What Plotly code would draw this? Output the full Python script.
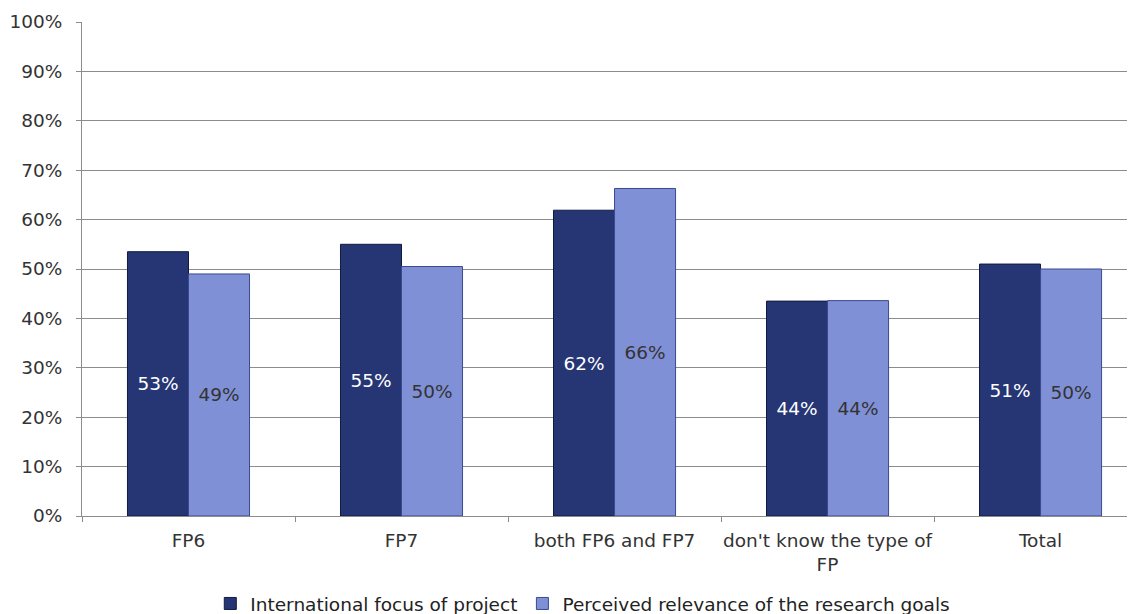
import plotly.graph_objects as go

categories = ["FP6", "FP7", "both FP6 and FP7", "don't know the type of<br>FP", "Total"]
intl_focus = [53.5, 55.0, 61.9, 43.5, 51.0]
intl_labels = ["53%", "55%", "62%", "44%", "51%"]
relevance = [49.0, 50.5, 66.3, 43.6, 50.0]
rel_labels = ["49%", "50%", "66%", "44%", "50%"]
y_ticks = list(range(0, 101, 10))
y_tick_labels = [f"{v}%" for v in y_ticks]

FONT = "DejaVu Sans"
FS = 18.5

fig = go.Figure()
fig.add_trace(go.Bar(
    name="International focus of project",
    x=categories, y=intl_focus,
    text=intl_labels, textposition="inside", insidetextanchor="middle",
    textfont=dict(color="white", size=FS, family=FONT),
    marker=dict(color="#263573", line=dict(color="#111a40", width=1)),
))
fig.add_trace(go.Bar(
    name="Perceived relevance of the research goals",
    x=categories, y=relevance,
    text=rel_labels, textposition="inside", insidetextanchor="middle",
    textfont=dict(color="#333333", size=FS, family=FONT),
    marker=dict(color="#7F90D6", line=dict(color="#3B4A8F", width=1)),
))

fig.update_layout(
    width=1135, height=614,
    margin=dict(l=74, r=0, t=14, b=106, autoexpand=False),
    paper_bgcolor="white", plot_bgcolor="white",
    barmode="group", bargap=0.427, bargroupgap=0,
    font=dict(family=FONT, size=FS, color="#333333"),
    showlegend=True,
    legend=dict(orientation="h", x=0.472, xanchor="center", y=-0.178, yanchor="middle",
                font=dict(size=FS, family=FONT, color="#222222"),
                itemwidth=30, traceorder="normal"),
    xaxis=dict(
        range=[-0.5, 4.481], tickson="boundaries", ticks="outside", ticklen=5,
        tickcolor="#8c8c8c", showline=True, linecolor="#8c8c8c", linewidth=1,
        showgrid=False, automargin=False, tickangle=0, ticklabelstandoff=8,
        tickfont=dict(size=FS, family=FONT, color="#333333"),
    ),
    yaxis=dict(
        range=[0, 100], tickvals=y_ticks, ticktext=y_tick_labels,
        ticks="outside", ticklen=5, tickcolor="#8c8c8c",
        showline=True, linecolor="#8c8c8c", linewidth=1,
        showgrid=True, gridcolor="#8c8c8c", gridwidth=1,
        zeroline=False, automargin=False, ticklabelstandoff=10,
        tickfont=dict(size=FS, family=FONT, color="#333333"),
    ),
)

fig.write_html("out.html")
